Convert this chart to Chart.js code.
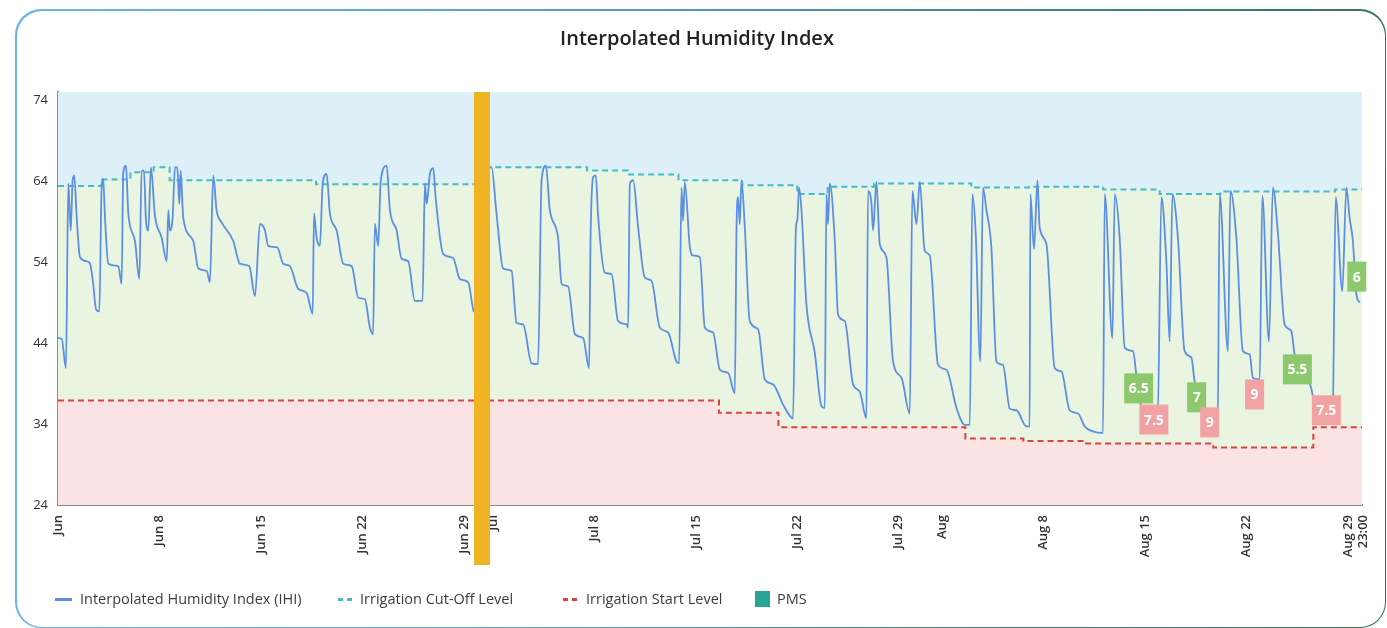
<!DOCTYPE html>
<html><head><meta charset="utf-8">
<script src="https://cdn.jsdelivr.net/npm/chart.js@4.4.1/dist/chart.umd.min.js"></script>
<style>
html,body{margin:0;padding:0;background:#fff;}
body{width:1387px;height:628px;position:relative;overflow:hidden;font-family:"Open Sans","Noto Sans",sans-serif;}
#frame{position:absolute;left:15px;top:9px;width:1371px;height:619px;border-radius:26px;background:linear-gradient(95deg,#6cb6e6 0%,#5aa3c8 35%,#2f7256 100%);}
#frame .inner{position:absolute;left:1.5px;top:1.5px;right:1.5px;bottom:1.5px;border-radius:25px;background:#fff;}
#c{position:absolute;left:0;top:0;}
#title{position:absolute;left:0;top:25px;width:1394px;text-align:center;font-size:20px;line-height:26px;font-weight:600;color:#222;}
#legend{position:absolute;left:0;top:588px;width:1387px;height:24px;font-size:14.5px;color:#3c3c3c;}
#legend .item{position:absolute;top:0;height:22px;line-height:22px;white-space:nowrap;}
#legend .sw{position:absolute;}
</style>
</head><body>
<div id="frame"><div class="inner"></div></div>
<canvas id="c" width="1387" height="628"></canvas>
<div id="title"></div>
<div id="legend"></div>
<script>
// ---------- DATA ----------
const ihiDays = [
0,0.26,0.55,0.71,0.88,1.01,1.12,1.29,1.52,1.98,
2.21,2.43,2.62,2.85,3.01,3.12,3.24,3.47,4.16,4.39,
4.50,4.69,4.85,5.31,5.61,5.77,5.93,6.07,6.23,6.41,
6.69,7.15,7.50,7.61,7.72,7.91,8.07,8.23,8.37,8.46,
8.64,9.33,9.68,10.26,10.48,10.71,10.94,11.29,12.09,12.55,
13.19,13.59,13.93,14.28,14.50,15.12,15.54,16.00,16.57,17.15,
17.57,17.66,17.84,18.07,18.26,18.53,18.76,19.22,19.68,20.26,
20.71,21.17,21.52,21.74,21.86,22.09,22.26,22.67,22.90,23.36,
23.70,24.16,24.62,25.15,25.31,25.43,25.66,25.88,26.07,26.57,
27.26,27.72,28.30,28.69,28.97,29.38,29.91,30.25,30.71,31.29,
31.63,32.09,32.67,33.12,33.36,33.66,33.93,34.50,34.74,35.19,
35.66,36.23,36.64,36.74,36.92,37.10,37.26,37.72,38.19,38.64,
39.22,39.33,39.45,39.68,40.02,40.48,40.94,41.52,42.09,42.67,
42.85,43.01,43.12,43.24,43.59,43.81,44.28,44.62,45.19,45.66,
46.23,46.69,46.81,46.92,47.03,47.15,47.38,47.72,48.30,48.76,
49.33,50.02,50.71,50.90,51.01,51.12,51.29,51.63,52.21,52.67,
52.90,53.01,53.12,53.24,53.59,53.81,54.28,54.85,55.31,55.77,
55.88,56.12,56.23,56.46,56.69,57.15,57.61,58.19,58.76,58.94,
59.22,59.45,59.79,60.14,60.71,61.29,61.98,62.55,62.90,63.08,
63.31,63.63,63.81,64.05,64.39,64.74,65.19,65.66,66.12,66.81,
67.03,67.08,67.33,67.57,67.72,68.19,68.76,69.22,69.79,70.37,
70.83,71.40,72.09,72.21,72.74,72.90,73.24,73.59,74.16,74.39,
74.62,75.86,76.12,76.46,76.69,76.88,77.26,77.72,78.19,78.41,
79.10,80.00,80.14,80.71,80.88,81.29,81.74,82.21,82.43,82.90,
83.08,83.54,83.81,84.16,84.62,85.08,85.31,86.46,86.90,87.93,
88.14,88.60,88.88,89.10,89.33,89.57,89.80
];
const ihiValues = [
44.6,44.5,40.9,63.7,57.9,64.1,64.7,59.5,54.6,54.1,
53.8,51.3,48.2,47.9,63.2,64.3,59.5,53.8,53.5,51.3,
64.9,65.9,60.0,56.6,51.9,65.3,65.3,59.1,57.9,65.7,
59.7,57.0,54.1,60.4,57.9,59.5,65.7,65.7,61.2,65.3,
59.5,56.6,53.2,52.9,51.5,64.7,60.4,58.9,56.6,53.8,
53.5,49.8,58.7,57.9,56.0,55.8,53.8,53.5,50.7,50.2,
47.6,60.0,57.0,56.0,63.7,64.9,60.0,57.9,53.8,53.5,
49.6,49.4,45.9,45.1,58.7,56.0,63.9,65.9,60.4,57.9,
54.4,54.1,49.2,49.2,63.7,61.2,64.9,65.6,61.6,55.0,
54.5,51.9,51.5,47.9,47.7,65.6,65.7,60.0,53.2,52.9,
46.5,46.3,41.5,41.4,64.1,65.9,60.4,57.0,51.3,51.0,
45.1,44.6,40.9,57.0,64.5,64.7,59.7,52.7,52.5,46.7,
46.3,45.9,63.7,64.1,58.3,52.1,51.7,45.9,45.3,41.7,
41.5,63.2,59.1,63.9,55.8,54.8,54.6,45.9,45.3,40.7,
40.3,37.8,58.3,62.0,58.7,64.1,58.3,46.7,45.7,39.5,
38.9,36.4,34.7,57.9,59.3,63.2,60.4,48.8,42.8,36.2,
36.0,62.4,58.7,63.7,56.6,47.5,46.7,38.9,38.0,34.7,
62.8,61.2,57.9,63.9,56.2,54.6,41.7,39.7,35.3,62.8,
58.7,63.9,55.4,54.8,41.3,40.7,36.0,33.9,33.9,62.4,
57.5,41.7,63.2,60.4,55.8,41.7,41.3,35.9,35.7,33.7,
33.7,62.4,55.6,64.1,58.3,56.2,40.9,40.5,35.7,35.3,
33.7,33.1,32.9,62.4,44.6,62.4,57.0,43.4,43.0,40.1,
36.8,34.3,62.0,54.1,44.2,62.4,57.0,43.0,42.2,39.3,
36.2,33.3,62.4,43.0,62.8,57.0,43.0,42.6,39.7,39.5,
62.2,44.2,63.2,57.5,46.3,45.5,42.6,38.4,34.3,34.5,
62.0,50.4,63.2,59.5,56.6,50.0,49.0
];
const cutoffDays   = [0, 3.0, 5.0, 6.6, 7.7, 17.8, 29.2, 36.5, 39.3, 42.8, 47.2, 51.0, 53.1, 56.3, 63.0, 67.0, 72.1, 76.0, 80.2, 88.1, 89.958];
const cutoffValues = [63.4, 64.2, 65.1, 65.7, 64.1, 63.6, 65.7, 65.3, 64.8, 64.1, 63.5, 62.4, 63.3, 63.7, 63.2, 63.3, 62.95, 62.4, 62.7, 62.95, 62.95];
const startDays    = [0, 45.6, 49.7, 62.6, 66.6, 70.8, 79.7, 86.6, 89.958];
const startValues  = [36.9, 35.4, 33.6, 32.2, 31.9, 31.6, 31.1, 33.6, 33.6];
const pmsDays   = [74.55, 75.6, 78.55, 79.45, 82.55, 85.5, 87.5, 89.6];
const pmsValues = [38.4, 34.55, 37.3, 34.2, 37.65, 40.75, 35.7, 52.2];
const pmsLabels = ["6.5", "7.5", "7", "9", "9", "5.5", "7.5", "6"];
const pmsKinds  = ["g", "r", "g", "r", "r", "g", "r", "g"];
const markerDay = 29.25;
const xTickDays   = [0, 7, 14, 21, 28, 30, 37, 44, 51, 58, 61, 68, 75, 82, 89];
const xTickLabels = ["Jun", "Jun 8", "Jun 15", "Jun 22", "Jun 29", "Jul", "Jul 8", "Jul 15", "Jul 22", "Jul 29", "Aug", "Aug 8", "Aug 15", "Aug 22", ["Aug 29", "23:00"]];
const yTicks = [24, 34, 44, 54, 64, 74];
const seriesNames = ["Interpolated Humidity Index (IHI)", "Irrigation Cut-Off Level", "Irrigation Start Level", "PMS"];
const titleText = "Interpolated Humidity Index";

// ---------- STYLE ----------
const FONT = "'Open Sans','Noto Sans',sans-serif";
const C_IHI = '#5b8fe3', C_CUT = '#45bcc6', C_START = '#d9443f', C_PMS = '#2aa395';
const BAND_BLUE = '#ddeff7', BAND_GREEN = '#e9f4e1', BAND_PINK = '#fbe3e3';
const BOX_GREEN = '#8ec86c', BOX_RED = '#f2a2a2', MARKER = '#f0b323';

document.getElementById('title').textContent = titleText;
const zip = (xs, ys) => xs.map((x, i) => ({x, y: ys[i]}));

const bandPlugin = {
  id: 'bands',
  beforeDatasetsDraw(chart) {
    const {ctx, chartArea: a} = chart;
    ctx.save();
    ctx.fillStyle = BAND_GREEN;
    ctx.fillRect(a.left, a.top, a.right - a.left, a.bottom - a.top);
    ctx.restore();
  }
};
const overlayPlugin = {
  id: 'overlay',
  afterDatasetsDraw(chart) {
    const {ctx, chartArea: a, scales: {x, y}} = chart;
    ctx.save();
    ctx.font = "bold 14px " + FONT;
    ctx.textAlign = 'center';
    ctx.textBaseline = 'middle';
    pmsDays.forEach((d, i) => {
      const px = x.getPixelForValue(d), py = y.getPixelForValue(pmsValues[i]);
      const t = pmsLabels[i];
      const w = Math.max(19, ctx.measureText(t).width + 9), h = 30;
      ctx.fillStyle = pmsKinds[i] === 'g' ? BOX_GREEN : BOX_RED;
      ctx.fillRect(px - w / 2, py - h / 2, w, h);
      ctx.fillStyle = '#ffffff';
      ctx.fillText(t, px, py + 1);
    });
    const mx = x.getPixelForValue(markerDay);
    ctx.fillStyle = MARKER;
    ctx.fillRect(mx - 8, a.top, 16, a.bottom + 60 - a.top);
    ctx.restore();
  }
};

new Chart(document.getElementById('c'), {
  type: 'line',
  data: {
    datasets: [
      {label: seriesNames[0], data: zip(ihiDays, ihiValues), borderColor: C_IHI, borderWidth: 1.8,
       pointRadius: 0, cubicInterpolationMode: 'monotone', fill: false},
      {label: seriesNames[1], data: zip(cutoffDays, cutoffValues), borderColor: C_CUT, borderWidth: 2,
       borderDash: [6, 4], pointRadius: 0, stepped: true, fill: 'end', backgroundColor: BAND_BLUE},
      {label: seriesNames[2], data: zip(startDays, startValues), borderColor: C_START, borderWidth: 2,
       borderDash: [6, 4], pointRadius: 0, stepped: true, fill: 'start', backgroundColor: BAND_PINK}
    ]
  },
  options: {
    responsive: false,
    animation: false,
    events: [],
    layout: {padding: {left: 0, right: 25, top: 92, bottom: 63}},
    plugins: {
      legend: {display: false},
      tooltip: {enabled: false},
      title: {display: false}
    },
    scales: {
      x: {
        type: 'linear', min: 0, max: 89.958,
        afterBuildTicks: s => { s.ticks = xTickDays.map(v => ({value: v})); },
        afterFit: s => { s.height = 60; s.paddingRight = 0; s.paddingLeft = 0; },
        grid: {display: false, drawTicks: false},
        border: {display: true, color: '#8c8c8c', width: 2},
        ticks: {autoSkip: false, minRotation: 90, maxRotation: 90, padding: 10, color: '#333',
                font: {family: FONT, size: 13, weight: '600'},
                callback: (v, i) => xTickLabels[i]}
      },
      y: {
        min: 24, max: 75,
        afterBuildTicks: s => { s.ticks = yTicks.map(v => ({value: v})); },
        afterFit: s => { s.width = 58; },
        grid: {display: false, drawTicks: false},
        border: {display: true, color: '#8c8c8c', width: 2},
        ticks: {padding: 10, color: '#333', font: {family: FONT, size: 13}}
      }
    }
  },
  plugins: [bandPlugin, overlayPlugin]
});

// ---------- HTML legend ----------
const legendSpec = [
  {left: 55, textLeft: 80, kind: 'line', color: C_IHI},
  {left: 338, textLeft: 360, kind: 'dash', color: C_CUT},
  {left: 563, textLeft: 586, kind: 'dash', color: C_START},
  {left: 755, textLeft: 777, kind: 'box', color: C_PMS}
];
const lg = document.getElementById('legend');
legendSpec.forEach((s, i) => {
  const it = document.createElement('div');
  it.className = 'item';
  it.style.left = s.left + 'px';
  let sw = '';
  if (s.kind === 'line') sw = `<span class="sw" style="left:0;top:10px;width:17px;height:3px;background:${s.color}"></span>`;
  if (s.kind === 'dash') sw = `<span class="sw" style="left:0;top:10px;width:5px;height:3px;background:${s.color}"></span><span class="sw" style="left:9px;top:10px;width:5px;height:3px;background:${s.color}"></span>`;
  if (s.kind === 'box') sw = `<span class="sw" style="left:0;top:3px;width:15px;height:16px;background:${s.color}"></span>`;
  it.innerHTML = sw + `<span style="position:absolute;left:${s.textLeft - s.left}px;top:0">${seriesNames[i]}</span>`;
  lg.appendChild(it);
});
</script>
</body></html>
